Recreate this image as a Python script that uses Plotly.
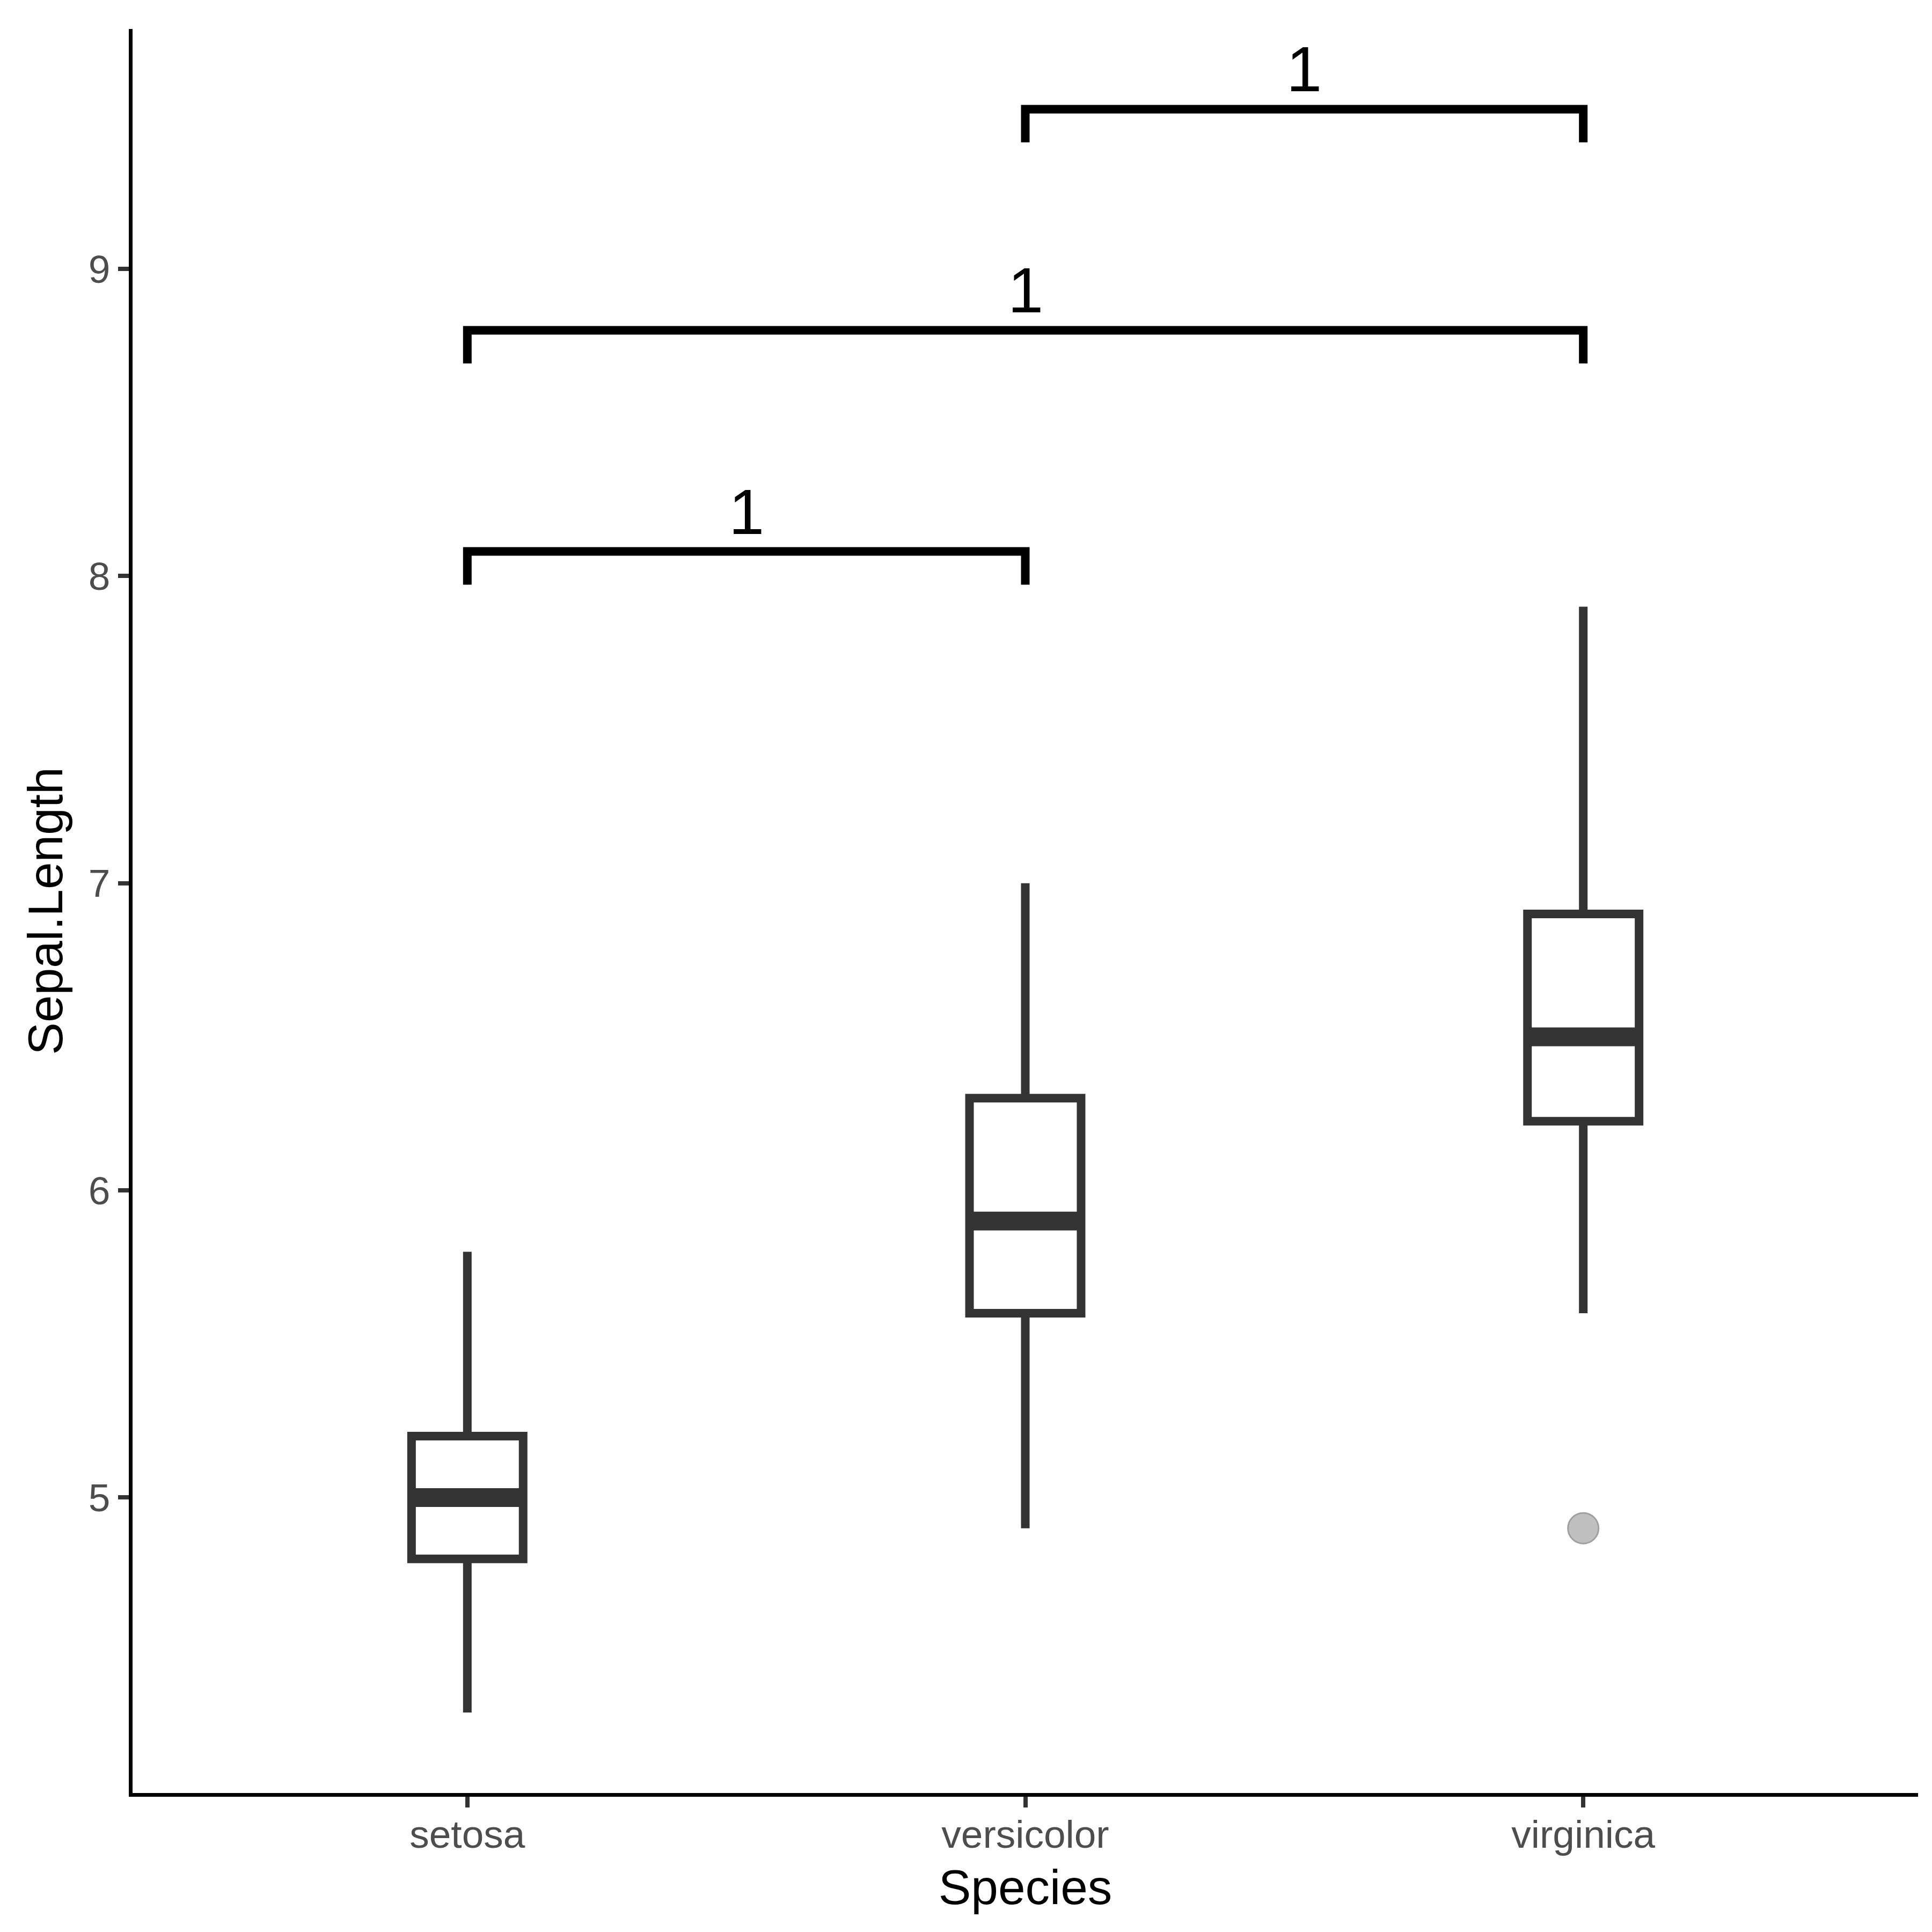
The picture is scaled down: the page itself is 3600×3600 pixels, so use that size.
import plotly.graph_objects as go

# iris Sepal.Length box stats per species
species = ["setosa", "versicolor", "virginica"]
lower_whisker = [4.3, 4.9, 5.6]
q1 = [4.8, 5.6, 6.225]
median = [5.0, 5.9, 6.5]
q3 = [5.2, 6.3, 6.9]
upper_whisker = [5.8, 7.0, 7.9]

# outliers
outlier_species = ["virginica"]
outlier_values = [4.9]

# significance brackets (wilcox p-values shown as labels)
bracket_from = ["setosa", "setosa", "versicolor"]
bracket_to = ["versicolor", "virginica", "virginica"]
bracket_y = [8.08, 8.80, 9.52]
bracket_labels = ["1", "1", "1"]
tip_drop = 0.108

box_width = 0.2
line_col = "#333333"
xpos = {s: i + 1 for i, s in enumerate(species)}

fig = go.Figure()

for i, s in enumerate(species):
    x = xpos[s]
    fig.add_trace(go.Box(
        x=[x], q1=[q1[i]], median=[median[i]], q3=[q3[i]],
        lowerfence=[lower_whisker[i]], upperfence=[upper_whisker[i]],
        width=box_width, whiskerwidth=0, boxpoints=False,
        fillcolor="white", line=dict(color=line_col, width=16),
        hoverinfo="skip", showlegend=False,
    ))
    # thicker median bar like ggplot
    fig.add_trace(go.Scatter(
        x=[x - box_width / 2, x + box_width / 2], y=[median[i], median[i]],
        mode="lines", line=dict(color=line_col, width=35),
        hoverinfo="skip", showlegend=False,
    ))

fig.add_trace(go.Scatter(
    x=[xpos[s] for s in outlier_species], y=outlier_values,
    mode="markers",
    marker=dict(size=57, color="#c0c0c0", line=dict(color="#a0a0a0", width=3)),
    hoverinfo="skip", showlegend=False,
))

for a, b, yb, lab in zip(bracket_from, bracket_to, bracket_y, bracket_labels):
    xa, xb = xpos[a], xpos[b]
    fig.add_trace(go.Scatter(
        x=[xa, xa, xb, xb], y=[yb - tip_drop, yb, yb, yb - tip_drop],
        mode="lines", line=dict(color="black", width=16),
        hoverinfo="skip", showlegend=False,
    ))
    fig.add_annotation(
        x=(xa + xb) / 2, y=yb, text=lab, showarrow=False,
        xanchor="center", yanchor="bottom", yshift=6,
        font=dict(size=119, color="black"),
    )

fig.update_layout(
    width=3600, height=3600,
    margin=dict(l=239, r=34, t=46, b=267),
    paper_bgcolor="white", plot_bgcolor="white",
    font=dict(family="Liberation Sans, Arial, sans-serif", color="black"),
)
fig.update_xaxes(
    range=[0.4, 3.6], tickvals=[xpos[s] for s in species], ticktext=species,
    showgrid=False, zeroline=False,
    showline=True, linecolor="black", linewidth=7,
    ticks="outside", ticklen=20, tickwidth=8, tickcolor=line_col,
    tickfont=dict(size=73, color="#4d4d4d"), ticklabelstandoff=-13,
    title=dict(text="Species", font=dict(size=91, color="black"), standoff=30),
)
fig.update_yaxes(
    range=[4.038, 9.781], tickvals=[5, 6, 7, 8, 9],
    showgrid=False, zeroline=False,
    showline=True, linecolor="black", linewidth=7,
    ticks="outside", ticklen=20, tickwidth=8, tickcolor=line_col,
    tickfont=dict(size=73, color="#4d4d4d"),
    title=dict(text="Sepal.Length", font=dict(size=91, color="black"), standoff=20),
)

fig.write_html("out.html")
